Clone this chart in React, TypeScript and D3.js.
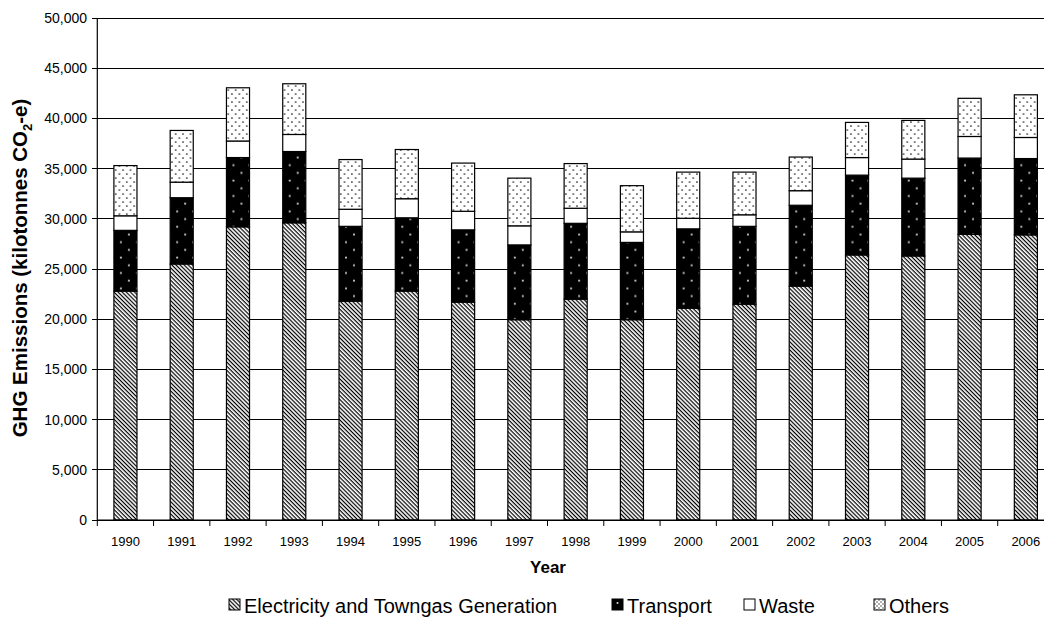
import React from 'react';
import * as d3 from 'd3';

const years = ['1990','1991','1992','1993','1994','1995','1996','1997','1998','1999','2000','2001','2002','2003','2004','2005','2006'];
const electricity = [22800, 25500, 29200, 29600, 21800, 22800, 21700, 19950, 22000, 19950, 21100, 21500, 23300, 26400, 26300, 28450, 28400];
const transport = [6050, 6600, 6900, 7100, 7450, 7300, 7200, 7450, 7550, 7700, 7900, 7750, 8050, 7950, 7750, 7600, 7600];
const waste = [1450, 1550, 1650, 1700, 1700, 1900, 1850, 1900, 1500, 1050, 1050, 1150, 1450, 1750, 1900, 2150, 2100];
const others = [5000, 5150, 5300, 5050, 4950, 4900, 4800, 4750, 4450, 4600, 4600, 4250, 3350, 3500, 3850, 3800, 4250];
const seriesNames = ['Electricity and Towngas Generation', 'Transport', 'Waste', 'Others'];
const yTicks = [0, 5000, 10000, 15000, 20000, 25000, 30000, 35000, 40000, 45000, 50000];

const FONT = '"Liberation Sans", Arial, sans-serif';
const fills = ['url(#hatch)', 'url(#tdots)', '#ffffff', 'url(#odots)'];

export default function App() {
  const W = 1044, H = 617;
  const left = 97.3, right = 1054, top = 18, bottom = 520;
  const x = d3.scaleBand<string>().domain(years).range([left, right]).paddingInner(0.59).paddingOuter(0.295);
  const y = d3.scaleLinear().domain([0, 50000]).range([bottom, top]);
  const rows = years.map((yr, i) => ({ year: yr, e: electricity[i], t: transport[i], w: waste[i], o: others[i] }));
  const stack = d3.stack<any>().keys(['e', 't', 'w', 'o'])(rows);
  const step = x.step();
  const fmt = d3.format(',');
  const legendX = [229, 612, 744, 874];

  return (
    <svg width={W} height={H} style={{ position: 'absolute', left: 0, top: 0, background: '#fff' }} fontFamily={FONT}>
      <defs>
        <pattern id="hatch" patternUnits="userSpaceOnUse" width="2.9" height="2.9" patternTransform="rotate(45)">
          <rect width="2.9" height="2.9" fill="#fff" />
          <rect width="2.9" height="1.2" fill="#000" />
        </pattern>
        <pattern id="tdots" patternUnits="userSpaceOnUse" width="16" height="15.4">
          <rect width="16" height="15.4" fill="#000" />
          <circle cx="15" cy="3.5" r="1" fill="#d0d0d0" />
          <circle cx="7" cy="11.2" r="1" fill="#d0d0d0" />
        </pattern>
        <pattern id="odots" patternUnits="userSpaceOnUse" width="7.4" height="8">
          <rect width="7.4" height="8" fill="#fff" />
          <circle cx="1.8" cy="2" r="0.85" fill="#222" />
          <circle cx="5.5" cy="6" r="0.85" fill="#222" />
        </pattern>
        <pattern id="legdot" patternUnits="userSpaceOnUse" width="4" height="4">
          <rect width="4" height="4" fill="#fff" />
          <circle cx="1" cy="1" r="0.7" fill="#222" />
          <circle cx="3" cy="3" r="0.7" fill="#222" />
        </pattern>
      </defs>
      <rect width={W} height={H} fill="#fff" />
      {yTicks.map(v => (
        <line key={'g' + v} x1={left} x2={right} y1={y(v)} y2={y(v)} stroke="#000" strokeWidth={1} shapeRendering="crispEdges" />
      ))}
      {yTicks.map(v => (
        <g key={'yt' + v}>
          <line x1={left - 5} x2={left} y1={y(v)} y2={y(v)} stroke="#000" shapeRendering="crispEdges" />
          <text x={87} y={y(v)} dy="0.35em" textAnchor="end" fontSize={14} fill="#000">{fmt(v)}</text>
        </g>
      ))}
      {years.map((yr, i) => (
        <g key={'b' + yr} transform={`translate(${x(yr)},0)`}>
          {stack.map((s, k) => (
            <rect key={k} x={0} y={y(s[i][1])} width={x.bandwidth()} height={y(s[i][0]) - y(s[i][1])}
              fill={fills[k]} stroke="#000" strokeWidth={1.2} />
          ))}
        </g>
      ))}
      <line x1={left} x2={left} y1={top} y2={bottom} stroke="#000" strokeWidth={1.2} />
      <line x1={left} x2={right} y1={bottom} y2={bottom} stroke="#000" strokeWidth={1.2} />
      {d3.range(years.length + 1).map(i => (
        <line key={'xt' + i} x1={left + i * step} x2={left + i * step} y1={bottom} y2={bottom + 6} stroke="#000" />
      ))}
      {years.map(yr => (
        <text key={'xl' + yr} x={(x(yr) as number) + x.bandwidth() / 2} y={546} textAnchor="middle" fontSize={13} fill="#000">{yr}</text>
      ))}
      <text x={548} y={573} textAnchor="middle" fontSize={17} fontWeight="bold" fill="#000">Year</text>
      <text transform={`translate(27,268) rotate(-90)`} textAnchor="middle" fontSize={20.5} fontWeight="bold" fill="#000">
        GHG Emissions (kilotonnes CO<tspan fontSize={13} dy={5}>2</tspan><tspan dy={-5}>-e)</tspan>
      </text>
      {seriesNames.map((n, k) => (
        <g key={'lg' + k} transform={`translate(${legendX[k]},599)`}>
          <rect x={0} y={0} width={11} height={11} fill={k === 0 ? 'url(#hatch)' : k === 3 ? 'url(#legdot)' : k === 1 ? '#000' : '#fff'} stroke="#000" strokeWidth={1} />
          {k === 1 && <circle cx={5.5} cy={4} r={1} fill="#ddd" />}
          <text x={15} y={13.5} fontSize={20} fill="#000">{n}</text>
        </g>
      ))}
    </svg>
  );
}
